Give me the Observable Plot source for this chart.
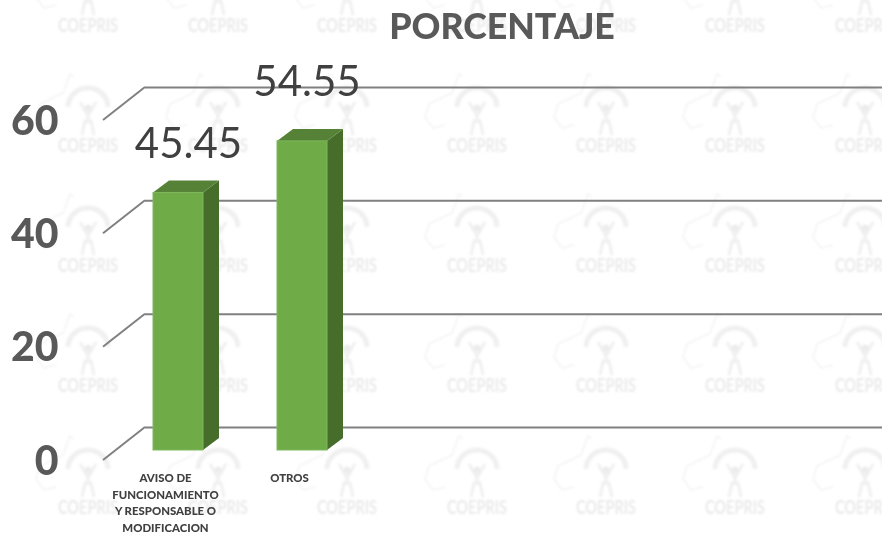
<!DOCTYPE html>
<html>
<head>
<meta charset="utf-8">
<script src="https://cdn.jsdelivr.net/npm/d3@7"></script>
<script src="https://cdn.jsdelivr.net/npm/@observablehq/plot@0.6"></script>
<style>
html,body{margin:0;padding:0;background:#fff;}
svg{display:block;}
</style>
</head>
<body>
<div id="chart"></div>
<script>
const categories = ["AVISO DE\nFUNCIONAMIENTO\nY RESPONSABLE O\nMODIFICACION", "OTROS"];
const values = [45.45, 54.55];
const yTicks = [0, 20, 40, 60];
const titleText = "PORCENTAJE";
const watermarkText = "COEPRIS";
const watermarkColumns = [88, 218, 347, 477, 606, 735, 865];
const watermarkRows = [25, 145, 265, 385, 507];

const rows = categories.map((category, i) => ({category, value: values[i]}));

const FRONT = "#6fac47", TOP = "#558236", SIDE = "#466d2a", GRID = "#808080";
const DEPTH_X = 16, DEPTH_Y = 12;
const WALL_DY = 23;

function svgEl(name, attrs, parent) {
  const el = document.createElementNS("http://www.w3.org/2000/svg", name);
  for (const k in attrs) el.setAttribute(k, attrs[k]);
  if (parent) parent.appendChild(el);
  return el;
}

function watermark() {
  const g = svgEl("g", {style: "filter: blur(1px)"});
  for (const cy of watermarkRows) for (const cx of watermarkColumns) {
    const t = svgEl("g", {transform: `translate(${cx},${cy})`, fill: "none", stroke: "#f0f0f0"}, g);
    svgEl("path", {"stroke-width": 1.5, stroke: "#f3f3f3", d: "M-14,-68 L-18,-71 L-25,-52 L-48,-41 L-52,-28 L-44,-17 L-32,-20"}, t);
    svgEl("path", {"stroke-width": 5, d: "M-20,-38 A20,19 0 0 1 20,-38"}, t);
    svgEl("path", {"stroke-width": 3, d: "M-8,-43 L0,-29 L8,-43 M0,-30 L0,-22 M-6,-10 L-3,-24 L3,-24 L6,-10"}, t);
    svgEl("circle", {r: 3.5, cy: -37, fill: "#ececec", stroke: "none"}, t);
    const label = svgEl("text", {
      "text-anchor": "middle", y: 7, "font-size": 18, "font-weight": 700,
      "font-family": "Lato", fill: "#eaeaea", stroke: "none", textLength: 60, lengthAdjust: "spacingAndGlyphs"
    }, t);
    label.textContent = watermarkText;
  }
  return g;
}

function wallDiagonals(index, {y}) {
  const g = svgEl("g", {fill: "none", stroke: GRID, "stroke-width": 2});
  for (const v of yTicks) {
    const back = y(v) - WALL_DY;
    svgEl("path", {d: `M103,${back + 33} L145,${back}`}, g);
  }
  return g;
}

function barDepth(index, {x, y}) {
  const g = svgEl("g", {});
  const w = x.bandwidth();
  for (const r of rows) {
    const l = x(r.category), rgt = l + w, top = y(r.value), base = y(0);
    svgEl("polygon", {fill: SIDE, points: `${rgt},${top} ${rgt + DEPTH_X},${top - DEPTH_Y} ${rgt + DEPTH_X},${base - DEPTH_Y} ${rgt},${base}`}, g);
    svgEl("polygon", {fill: TOP, points: `${l},${top} ${l + DEPTH_X},${top - DEPTH_Y} ${rgt + DEPTH_X},${top - DEPTH_Y} ${rgt},${top}`}, g);
  }
  return g;
}

const chart = Plot.plot({
  width: 882,
  height: 533,
  marginLeft: 145,
  marginRight: 0,
  marginTop: 0,
  marginBottom: 0,
  style: {fontFamily: "Lato", background: "#fff", overflow: "hidden"},
  x: {domain: categories, range: [79, 401], padding: 74 / 124, align: 0.5, round: false, axis: null, label: null},
  y: {domain: [0, 60], range: [450, 110], label: null},
  marks: [
    watermark,
    Plot.ruleY(yTicks, {stroke: GRID, strokeWidth: 2, dy: -WALL_DY}),
    wallDiagonals,
    barDepth,
    Plot.barY(rows, {x: "category", y: "value", fill: FRONT, stroke: "#7fb65e", strokeWidth: 1}),
    Plot.axisY({ticks: yTicks, tickSize: 0, tickPadding: 87, dy: 11, fontSize: 41, fontWeight: 900, fill: "#595959", label: null}),
    Plot.text(rows.slice(0, 1), {x: "category", y: "value", text: d => d.value.toFixed(2), dx: 10, dy: -48, fontSize: 42, fill: "#404040"}),
    Plot.text(rows.slice(1), {x: "category", y: "value", text: d => d.value.toFixed(2), dx: 4.5, dy: -59, fontSize: 42, fill: "#404040"}),
    Plot.text(rows, {x: "category", y: () => 0, text: "category", dx: -13, dy: 20, lineAnchor: "top", lineHeight: 1.45, fontSize: 11.4, fontWeight: 900, fill: "#404040"}),
    Plot.text([titleText], {frameAnchor: "top", dx: -12, dy: 13, lineAnchor: "top", fontSize: 35.7, fontWeight: 900, fill: "#595959"})
  ]
});
document.getElementById("chart").appendChild(chart);
</script>
</body>
</html>
